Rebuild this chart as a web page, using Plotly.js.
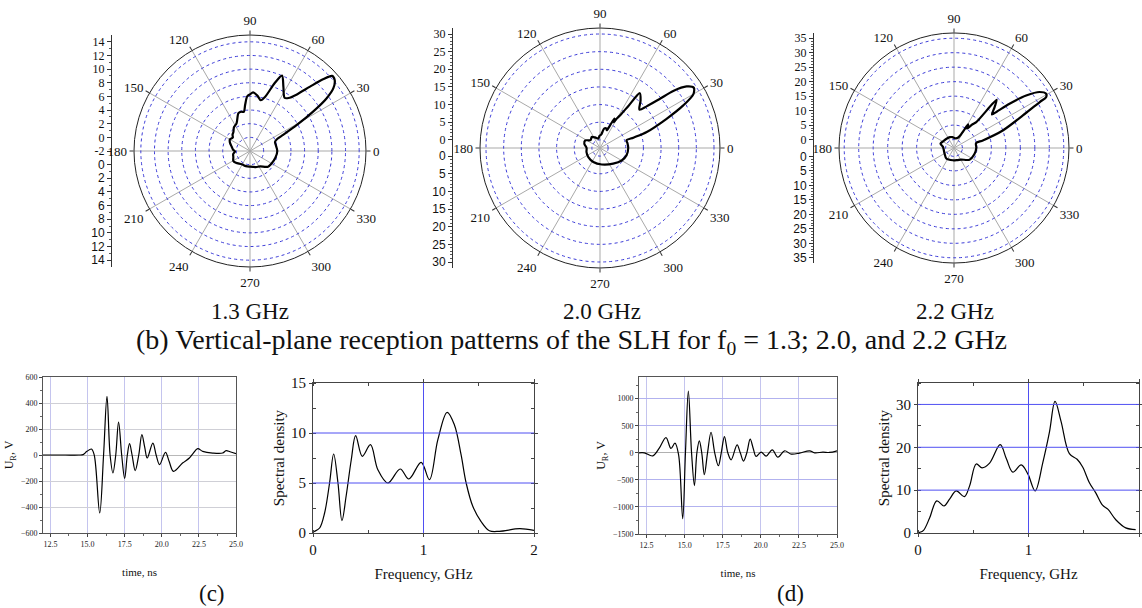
<!DOCTYPE html>
<html>
<head>
<meta charset="utf-8">
<script src="https://cdn.plot.ly/plotly-3.0.1.min.js"></script>
<style>html,body{margin:0;padding:0;background:#fff}#chart{width:1142px;height:608px}</style>
</head>
<body>
<div id="chart"></div>
<script>
// ---------- DATA ----------
// Vertical-plane reception patterns (angle in degrees, radial value)
const theta13 = [0, 10, 20, 24, 26, 29, 32, 34.5, 37, 40, 42.5, 44.5, 47, 50.5, 54, 57, 62.5, 67, 70, 74.5, 78, 82.5, 87, 90, 93, 96, 99, 103, 107, 116, 124, 131, 137, 142, 150, 157, 167, 175, 182, 190, 200, 211, 220, 238, 255, 270, 290, 303, 319, 330, 345, 360];
const r13     = [2.0, 1.9, 1.9, 2.4, 3.4, 5.8, 8.9, 11.6, 13.3, 14.2, 14.3, 13.0, 10.9, 8.7, 7.6, 7.3, 8.6, 10.0, 8.6, 6.2, 5.6, 6.2, 6.6, 6.3, 6.0, 4.8, 3.8, 3.9, 3.8, 2.5, 2.2, 1.7, 1.5, 1.2, 1.4, 1.2, 0.75, 0.5, 0.2, 0.5, 0.6, 0.85, 0.7, 0.3, 0.3, 0.3, 0.5, 0.7, 1.5, 1.65, 1.85, 2.0];
const theta20 = [0, 10, 16, 17.2, 18.9, 23.7, 27.1, 29.9, 32.7, 35.4, 37.9, 39.4, 41.8, 44.3, 49.5, 54, 56, 58, 60.4, 62, 64, 66, 69, 72, 78, 85, 92, 100, 115, 127, 140, 153, 165, 180, 197, 218, 244.5, 276, 310, 330, 345, 360];
const r20     = [5.7, 5.6, 5.5, 7.6, 11.7, 18.3, 24.2, 28.2, 29.3, 27.8, 24.0, 19.7, 15.4, 13.3, 15.4, 16.9, 12.0, 9.0, 7.2, 6.0, 7.0, 4.8, 3.1, 3.5, 3.3, 1.5, 1.2, 0.4, 1.0, 1.6, 1.2, 2.4, 2.3, 1.5, 1.7, 1.9, 2.1, 2.4, 3.5, 4.8, 5.5, 5.7];
const theta22 = [0, 12.6, 14.8, 19.8, 25.3, 28.2, 28.9, 30.5, 33.2, 36, 38.5, 40.4, 41.5, 45.2, 48.5, 49.3, 52, 56, 59, 61, 63, 68, 80, 98.6, 110, 129, 149, 162, 175, 195, 211, 234, 265, 285, 302, 323, 345, 360];
const r22     = [4.8, 4.9, 7.4, 15.0, 23.4, 30.7, 33.4, 34.0, 32.4, 27.9, 21.6, 16.3, 14.6, 17.0, 19.3, 8.9, 7.5, 5.2, 6.6, 4.0, 2.2, 1.0, 0.5, 0.9, 1.1, 1.2, 1.5, 2.0, 0.9, 0.7, 0.9, 1.6, 1.35, 1.4, 1.8, 3.8, 4.5, 4.8];
const radTicks13 = [0, 2, 4, 6, 8, 10, 12, 14];
const radTicks20 = [0, 5, 10, 15, 20, 25, 30];
const radTicks22 = [0, 5, 10, 15, 20, 25, 30, 35];
const angleLabels = ['0', '30', '60', '90', '120', '150', '180', '210', '240', '270', '300', '330'];

// (c) received pulse and spectrum
const timeC = [12.0, 13.5, 14.4, 14.7, 14.96, 15.26, 15.45, 15.82, 16.08, 16.31, 16.52, 16.71, 16.9, 17.09, 17.3, 17.5, 17.68, 17.83, 18.0, 18.21, 18.45, 18.66, 18.85, 19.02, 19.4, 19.62, 19.85, 20.25, 20.5, 20.79, 21.4, 21.86, 22.1, 22.42, 22.76, 23.43, 24.1, 24.33, 24.6, 25.0];
const voltC = [0, 0, 0, 3, 28, 46, 0, -446, 0, 451, 0, -138, 0, 254, 0, -180, 0, 87, 0, -120, 0, 156, 60, -23, 92, 0, -74, 20, -50, -126, -62, -23, 10, 49, 28, 15, 15, 33, 25, 10];
const freqC = [0.0, 0.015, 0.06, 0.105, 0.15, 0.187, 0.226, 0.262, 0.30, 0.346, 0.386, 0.446, 0.52, 0.587, 0.678, 0.789, 0.867, 0.979, 1.054, 1.13, 1.214, 1.28, 1.34, 1.386, 1.446, 1.52, 1.596, 1.687, 1.87, 2.0];
const specC = [0.1, 0.17, 0.5, 2.0, 5.0, 7.9, 5.0, 1.23, 3.7, 7.3, 9.73, 7.67, 8.83, 6.33, 5.0, 6.4, 5.4, 7.07, 5.33, 9.33, 12.07, 10.8, 7.83, 5.0, 2.67, 1.17, 0.23, 0.17, 0.43, 0.27];
const specTicksC = [0, 5, 10, 15];

// (d) received pulse and spectrum
const timeD = [12.0, 12.35, 12.9, 13.33, 13.77, 14.1, 14.36, 14.6, 14.87, 15.05, 15.24, 15.45, 15.64, 15.8, 15.96, 16.12, 16.29, 16.5, 16.73, 16.97, 17.21, 17.4, 17.61, 17.83, 18.05, 18.44, 18.65, 18.86, 19.08, 19.3, 19.5, 19.69, 20.02, 20.35, 20.75, 21.12, 21.56, 21.99, 22.54, 23.2, 23.53, 24.08, 24.5, 25.0];
const voltD = [0, 0, -58, 86, 282, 80, 178, -37, -1218, 0, 1138, 0, -606, 0, 220, 0, -404, 0, 379, 0, -239, 0, 300, 0, -129, 147, 0, -153, 0, 251, 80, -67, 12, -61, 55, -80, 37, -24, -6, 37, 0, 12, 6, 37];
const freqD = [0.0, 0.015, 0.05, 0.105, 0.17, 0.235, 0.286, 0.346, 0.42, 0.467, 0.527, 0.58, 0.648, 0.744, 0.8, 0.858, 0.934, 0.994, 1.06, 1.13, 1.19, 1.24, 1.295, 1.37, 1.44, 1.49, 1.55, 1.61, 1.67, 1.72, 1.79, 1.88, 1.97];
const specD = [0.1, 0.16, 0.63, 3.5, 7.5, 6.3, 7.9, 9.84, 8.5, 11.0, 16.1, 15.2, 16.3, 20.6, 17.3, 14.2, 15.9, 13.8, 9.84, 16.5, 23.6, 30.7, 26.0, 18.5, 17.2, 15.4, 11.8, 9.3, 6.5, 5.5, 3.1, 1.2, 0.8];
const specTicksD = [0, 10, 20, 30];

const freqTicks = [0, 1, 2];
const timeTicks = [12.5, 15.0, 17.5, 20.0, 22.5, 25.0];

// ---------- LAYOUT HELPERS ----------
const W = 1142, H = 608;
const px = x => x / W;
const py = y => 1 - y / H;
const SERIF = 'Liberation Serif, Times New Roman, serif';
const SANS = 'Liberation Sans, Arial, sans-serif';
const SPEC_GRID = '#4f4ff2';

function polarCfg(cx, cy, r, rmin, rmax, ticks) {
  return {
    domain: {x: [px(cx - r), px(cx + r)], y: [py(cy + r), py(cy - r)]},
    bgcolor: 'white',
    radialaxis: {range: [rmin, rmax], tickmode: 'array', tickvals: ticks, showticklabels: false, ticks: '', showline: false,
      gridcolor: '#3b3bd8', griddash: 'dot', gridwidth: 1, angle: 0},
    angularaxis: {tickmode: 'array', tickvals: angleLabels.map(Number), ticktext: angleLabels,
      direction: 'counterclockwise', rotation: 0, gridcolor: '#a9a9a9', gridwidth: 1, linecolor: '#222', linewidth: 1,
      ticks: 'outside', ticklen: 4, tickcolor: '#333', tickfont: {family: SERIF, size: 13, color: '#111'}}
  };
}
function leftAxes(cx, cy, r, rmin, rmax, ticks, lx, xname, y1, y2, centerLabel, minorStep) {
  const S = rmax - rmin;
  const dom = [py(cy + r), py(cy - r)];
  const upVals = ticks.map(v => v - rmin);
  const upText = ticks.map(String);
  if (centerLabel !== null) { upVals.push(0); upText.push(centerLabel); }
  const lowVals = ticks.map(v => -(v - rmin));
  const lowText = ticks.map(String);
  const minors = [];
  for (let v = ticks[0]; v <= ticks[ticks.length - 1] + 1e-9; v += minorStep) minors.push(v - rmin, -(v - rmin));
  const xa = {domain: [px(lx), px(lx) + 0.01], range: [0, 1], visible: false, anchor: y1, fixedrange: true};
  const common = {domain: dom, anchor: xname, range: [-S, S], tickmode: 'array', showgrid: false, zeroline: false,
    ticks: 'outside', ticklen: 4, tickcolor: '#333', fixedrange: true};
  const ya = Object.assign({}, common, {tickvals: upVals, ticktext: upText, showline: true, linecolor: '#333', linewidth: 1,
    tickfont: {family: SERIF, size: 12, color: '#111'},
    minor: {tickmode: 'array', tickvals: minors, ticks: 'outside', ticklen: 2, tickcolor: '#555'}});
  const yb = Object.assign({}, common, {tickvals: lowVals, ticktext: lowText, showline: false, overlaying: y1.replace('yaxis','y'),
    tickfont: {family: SANS, size: 12, color: '#111'}});
  return {xa, ya, yb};
}
// grid lines of the spectral panels, drawn from their tick values
function gridShapes(xn, yn, xt, yt) {
  const s = [];
  xt.forEach(v => s.push({type: 'line', xref: xn, yref: yn + ' domain', x0: v, x1: v, y0: 0, y1: 1, layer: 'above', line: {color: SPEC_GRID, width: 1}}));
  yt.forEach(v => s.push({type: 'line', xref: xn + ' domain', yref: yn, x0: 0, x1: 1, y0: v, y1: v, layer: 'above', line: {color: SPEC_GRID, width: 1}}));
  return s;
}

// ---------- TRACES ----------
const polarLine = {color: '#000', width: 2.2, shape: 'spline', smoothing: 0.8};
const traces = [
  {type: 'scatterpolar', subplot: 'polar', theta: theta13, r: r13, mode: 'lines', line: polarLine, hoverinfo: 'skip', showlegend: false},
  {type: 'scatterpolar', subplot: 'polar2', theta: theta20, r: r20, mode: 'lines', line: polarLine, hoverinfo: 'skip', showlegend: false},
  {type: 'scatterpolar', subplot: 'polar3', theta: theta22, r: r22, mode: 'lines', line: polarLine, hoverinfo: 'skip', showlegend: false},
  {type: 'scatter', x: timeC, y: voltC, xaxis: 'x', yaxis: 'y', mode: 'lines', line: {color: '#000', width: 1.2, shape: 'spline', smoothing: 1}, showlegend: false},
  {type: 'scatter', x: freqC, y: specC, xaxis: 'x2', yaxis: 'y2', mode: 'lines', line: {color: '#000', width: 1.2, shape: 'spline', smoothing: 1}, showlegend: false},
  {type: 'scatter', x: timeD, y: voltD, xaxis: 'x3', yaxis: 'y3', mode: 'lines', line: {color: '#000', width: 1.2, shape: 'spline', smoothing: 1}, showlegend: false},
  {type: 'scatter', x: freqD, y: specD, xaxis: 'x4', yaxis: 'y4', mode: 'lines', line: {color: '#000', width: 1.2, shape: 'spline', smoothing: 1}, showlegend: false}
];
[['x5','y5'],['x5','y6'],['x6','y7'],['x6','y8'],['x7','y9'],['x7','y10']].forEach(([xa, ya]) => {
  traces.push({type: 'scatter', x: [0.5], y: [0], xaxis: xa, yaxis: ya, mode: 'markers', marker: {opacity: 0}, hoverinfo: 'skip', showlegend: false});
});

// ---------- LAYOUT ----------
const P1 = [250, 151, 116, -2, 15, radTicks13];
const P2 = [600, 148, 120, -2.3, 31.7, radTicks20];
const P3 = [954, 148, 115, -2.9, 36.8, radTicks22];
const L1 = leftAxes(...P1, 112, 'x5', 'yaxis5', 'yaxis6', '-2', 1);
const L2 = leftAxes(...P2, 453, 'x6', 'yaxis7', 'yaxis8', null, 1);
const L3 = leftAxes(...P3, 814, 'x7', 'yaxis9', 'yaxis10', null, 1);

function timeX(x0, x1, anchor) {
  return {domain: [px(x0), px(x1)], anchor, range: [12, 25], tickmode: 'array', tickvals: timeTicks, ticktext: timeTicks.map(v => v.toFixed(1)),
    tickfont: {family: SERIF, size: 8, color: '#222'}, ticks: 'outside', ticklen: 3, tickcolor: '#444',
    showline: true, linecolor: '#555', mirror: true, showgrid: true, gridcolor: '#c4c4ee', zeroline: false,
    minor: {tick0: 12.5, dtick: 1.25, ticks: 'outside', ticklen: 2, tickcolor: '#666'},
    title: {text: 'time, ns', font: {family: SERIF, size: 11, color: '#111'}, standoff: 20}, fixedrange: true};
}
function freqX(x0, x1, anchor) {
  return {domain: [px(x0), px(x1)], anchor, range: [0, 2], tickmode: 'array', tickvals: freqTicks,
    tickfont: {family: SERIF, size: 15, color: '#111'}, ticks: 'outside', ticklen: 3, tickcolor: '#444',
    showline: true, linecolor: '#444', mirror: 'ticks', showgrid: false, zeroline: false,
    minor: {tick0: 0, dtick: 0.5, ticks: 'inside', ticklen: 3, tickcolor: '#444'},
    title: {text: 'Frequency, GHz', font: {family: SERIF, size: 15, color: '#111'}, standoff: 11}, fixedrange: true};
}
function specY(y0, y1, anchor, ticks, minorStep) {
  return {domain: [py(y0), py(y1)], anchor, range: [0, ticks[ticks.length - 1] + (anchor === 'x4' ? 5 : 0)], tickmode: 'array', tickvals: ticks,
    tickfont: {family: SERIF, size: 15, color: '#111'}, ticks: 'outside', ticklen: 3, tickcolor: '#444',
    showline: true, linecolor: '#444', mirror: 'ticks', showgrid: false, zeroline: false,
    minor: {tick0: 0, dtick: minorStep, ticks: 'inside', ticklen: 3, tickcolor: '#444'},
    title: {text: 'Spectral density', font: {family: SERIF, size: 15, color: '#111'}, standoff: 2}, fixedrange: true};
}

const layout = {
  width: W, height: H, margin: {l: 0, r: 0, t: 0, b: 0},
  paper_bgcolor: 'white', plot_bgcolor: 'white', font: {family: SERIF, color: '#111'}, showlegend: false,
  polar: polarCfg(...P1), polar2: polarCfg(...P2), polar3: polarCfg(...P3),
  xaxis: timeX(43, 236, 'y'),
  yaxis: {domain: [py(533), py(377)], anchor: 'x', range: [-600, 600], tickmode: 'linear', tick0: -600, dtick: 200,
    tickfont: {family: SERIF, size: 8, color: '#222'}, ticks: 'outside', ticklen: 3, tickcolor: '#444',
    showline: true, linecolor: '#555', mirror: true, showgrid: true, gridcolor: '#cfcfd6', zeroline: true, zerolinecolor: '#b8b8b8',
    minor: {tick0: -600, dtick: 100, ticks: 'outside', ticklen: 2, tickcolor: '#666'},
    title: {text: 'U<sub>R</sub>, V', font: {family: SERIF, size: 12, color: '#111'}, standoff: 4}, fixedrange: true},
  xaxis2: freqX(313, 534, 'y2'),
  yaxis2: specY(533, 383, 'x2', specTicksC, 2.5),
  xaxis3: timeX(639, 837, 'y3'),
  yaxis3: {domain: [py(534), py(377)], anchor: 'x3', range: [-1500, 1400], tickmode: 'array', tickvals: [-1500, -1000, -500, 0, 500, 1000],
    tickfont: {family: SERIF, size: 8, color: '#222'}, ticks: 'outside', ticklen: 3, tickcolor: '#444',
    showline: true, linecolor: '#555', mirror: true, showgrid: true, gridcolor: '#b2b2ef', zeroline: true, zerolinecolor: '#b0b0b0',
    minor: {tick0: -1500, dtick: 250, ticks: 'outside', ticklen: 2, tickcolor: '#666'},
    title: {text: 'U<sub>R</sub>, V', font: {family: SERIF, size: 12, color: '#111'}, standoff: 4}, fixedrange: true},
  xaxis4: freqX(918, 1139, 'y4'),
  yaxis4: specY(533, 383, 'x4', specTicksD, 5),
  xaxis5: L1.xa, yaxis5: L1.ya, yaxis6: L1.yb,
  xaxis6: L2.xa, yaxis7: L2.ya, yaxis8: L2.yb,
  xaxis7: L3.xa, yaxis9: L3.ya, yaxis10: L3.yb,
  shapes: [
    ...gridShapes('x2', 'y2', freqTicks.slice(1, -1), specTicksC.slice(1, -1)),
    ...gridShapes('x4', 'y4', freqTicks.slice(1, -1), specTicksD.slice(1))
  ],
  annotations: [
    {text: '1.3 GHz', x: px(250), y: py(311)},
    {text: '2.0 GHz', x: px(602), y: py(311)},
    {text: '2.2 GHz', x: px(955), y: py(311)},
    {text: '(b) Vertical-plane reception patterns of the SLH for f<sub>0</sub> = 1.3; 2.0, and 2.2 GHz', x: px(571), y: py(341), font: {family: SERIF, size: 28, color: '#111'}},
    {text: '(c)', x: px(212), y: py(593)},
    {text: '(d)', x: px(790), y: py(593)}
  ].map(a => Object.assign({xref: 'paper', yref: 'paper', showarrow: false, xanchor: 'center', yanchor: 'middle',
    font: {family: SERIF, size: 23, color: '#111'}}, a))
};
Plotly.newPlot('chart', traces, layout, {staticPlot: true, displayModeBar: false});
</script>
</body>
</html>
